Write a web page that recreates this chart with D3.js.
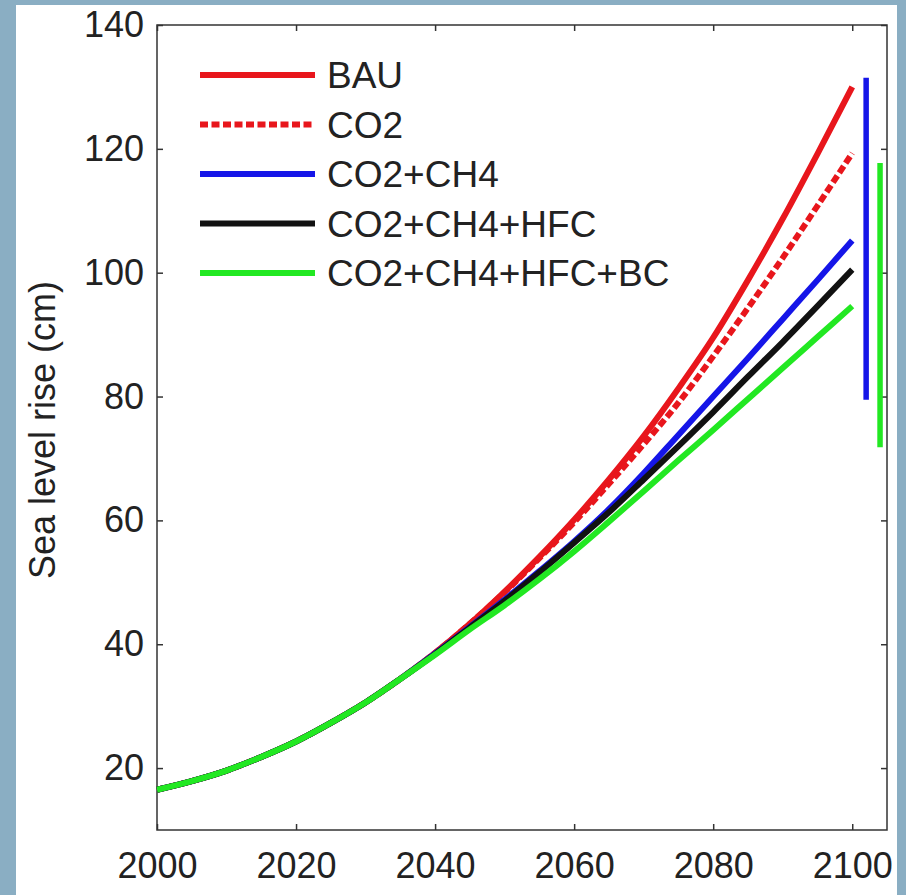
<!DOCTYPE html>
<html>
<head>
<meta charset="utf-8">
<script src="https://cdn.jsdelivr.net/npm/d3@7"></script>
<style>
  html, body { margin: 0; padding: 0; background: #8aaec3; }
  svg { display: block; }
  .tick text { font-family: "Liberation Sans", Arial, sans-serif; fill: #222; }
</style>
</head>
<body>
<svg id="chart"></svg>
<script>
// Sea level rise (cm) per scenario, every 5 years from 2000 to 2100
const years = [2000, 2005, 2010, 2015, 2020, 2025, 2030, 2035, 2040, 2045, 2050,
               2055, 2060, 2065, 2070, 2075, 2080, 2085, 2090, 2095, 2100];
const bau    = [16.5, 17.9, 19.6, 21.8, 24.3, 27.3, 30.6, 34.4, 38.6, 43.3, 48.5,
                54.1, 60.1, 66.6, 73.6, 81.3, 89.5, 98.8, 108.7, 119.2, 130.0];
const co2    = [16.5, 17.9, 19.6, 21.8, 24.3, 27.3, 30.6, 34.4, 38.6, 43.3, 48.4,
                53.9, 59.7, 65.9, 72.3, 79.0, 86.5, 94.3, 102.4, 110.8, 119.3];
const co2ch4 = [16.5, 17.9, 19.6, 21.8, 24.3, 27.3, 30.6, 34.4, 38.5, 42.8, 47.2,
                51.8, 56.6, 61.8, 67.6, 73.8, 80.0, 86.2, 92.5, 98.8, 105.2];
const co2ch4hfc = [16.5, 17.9, 19.6, 21.8, 24.3, 27.3, 30.6, 34.4, 38.4, 42.7, 47.0,
                51.6, 56.4, 61.3, 66.6, 72.0, 77.5, 83.2, 88.8, 94.6, 100.5];
const co2ch4hfcbc = [16.5, 17.9, 19.6, 21.8, 24.3, 27.3, 30.6, 34.4, 38.3, 42.4, 46.3,
                50.5, 55.0, 59.8, 64.7, 69.7, 74.6, 79.6, 84.6, 89.6, 94.6];

const seriesNames = ['BAU', 'CO2', 'CO2+CH4', 'CO2+CH4+HFC', 'CO2+CH4+HFC+BC'];
const seriesValues = [bau, co2, co2ch4, co2ch4hfc, co2ch4hfcbc];
const seriesColors = ['#e8161c', '#e8161c', '#1515e8', '#111111', '#22e822'];
const seriesDashed = [false, true, false, false, false];

// uncertainty ranges at 2100 (drawn just right of the curves)
const rangeYears = [2102, 2104];
const rangeLow = [79.5, 71.8];
const rangeHigh = [131.5, 117.7];
const rangeColors = ['#1515e8', '#22e822'];

const xTicks = [2000, 2020, 2040, 2060, 2080, 2100];
const yTicks = [20, 40, 60, 80, 100, 120, 140];

const width = 906, height = 895;
const margin = {top: 25, right: 19, bottom: 65, left: 157};
const font = '"Liberation Sans", Arial, Helvetica, sans-serif';

const svg = d3.select('#chart')
    .attr('width', width)
    .attr('height', height);

// white panel on the blue-gray page
svg.append('rect')
    .attr('x', 16).attr('y', 5)
    .attr('width', 881).attr('height', height)
    .attr('fill', '#ffffff');

const x = d3.scaleLinear()
    .domain([2000, 2105])
    .range([margin.left, width - margin.right]);

const y = d3.scaleLinear()
    .domain([10, 140])
    .range([height - margin.bottom, margin.top]);

// axes, MATLAB style: inward ticks on all four sides
const xAxis = d3.axisBottom(x).tickValues(xTicks).tickFormat(d3.format('d'))
    .tickSizeInner(-6).tickSizeOuter(0).tickPadding(22);
const yAxis = d3.axisLeft(y).tickValues(yTicks)
    .tickSizeInner(-6).tickSizeOuter(0).tickPadding(13);
const xTop = d3.axisTop(x).tickValues(xTicks).tickFormat('')
    .tickSizeInner(-6).tickSizeOuter(0);
const yRight = d3.axisRight(y).tickValues(yTicks).tickFormat('')
    .tickSizeInner(-6).tickSizeOuter(0);

function styleAxis(g) {
  g.select('.domain').remove();
  g.selectAll('.tick line').attr('stroke', '#333').attr('stroke-width', 1.5);
  g.selectAll('.tick text').attr('font-size', 36).attr('font-family', font).attr('fill', '#222');
}

svg.append('g').attr('transform', `translate(0,${height - margin.bottom})`).call(xAxis).call(styleAxis);
svg.append('g').attr('transform', `translate(${margin.left},0)`).call(yAxis).call(styleAxis);
svg.append('g').attr('transform', `translate(0,${margin.top})`).call(xTop).call(styleAxis);
svg.append('g').attr('transform', `translate(${width - margin.right},0)`).call(yRight).call(styleAxis);

// plot box
svg.append('rect')
    .attr('x', margin.left).attr('y', margin.top)
    .attr('width', width - margin.left - margin.right)
    .attr('height', height - margin.top - margin.bottom)
    .attr('fill', 'none')
    .attr('stroke', '#333')
    .attr('stroke-width', 1.5);

// y axis title
svg.append('text')
    .attr('transform', `translate(55,430) rotate(-90)`)
    .attr('text-anchor', 'middle')
    .attr('font-family', font)
    .attr('font-size', 36)
    .attr('fill', '#222')
    .text('Sea level rise (cm)');

// scenario curves
const line = d3.line()
    .x(d => x(d[0]))
    .y(d => y(d[1]))
    .curve(d3.curveMonotoneX);

seriesValues.forEach((vals, i) => {
  svg.append('path')
      .datum(years.map((yr, j) => [yr, vals[j]]))
      .attr('fill', 'none')
      .attr('stroke', seriesColors[i])
      .attr('stroke-width', 6)
      .attr('stroke-dasharray', seriesDashed[i] ? '8,3.5' : null)
      .attr('stroke-linejoin', 'round')
      .attr('d', line);
});

// range bars
rangeYears.forEach((yr, i) => {
  svg.append('line')
      .attr('x1', x(yr)).attr('x2', x(yr))
      .attr('y1', y(rangeLow[i])).attr('y2', y(rangeHigh[i]))
      .attr('stroke', rangeColors[i])
      .attr('stroke-width', 5.5);
});

// legend (no box)
const legend = svg.append('g');
seriesNames.forEach((name, i) => {
  const ly = 75 + i * 49.5;
  legend.append('line')
      .attr('x1', 200).attr('x2', 315)
      .attr('y1', ly).attr('y2', ly)
      .attr('stroke', seriesColors[i])
      .attr('stroke-width', 6)
      .attr('stroke-dasharray', seriesDashed[i] ? '8,3.5' : null);
  legend.append('text')
      .attr('x', 327).attr('y', ly)
      .attr('dy', '0.36em')
      .attr('font-family', font)
      .attr('font-size', 37)
      .attr('fill', '#222')
      .text(name);
});
</script>
</body>
</html>
